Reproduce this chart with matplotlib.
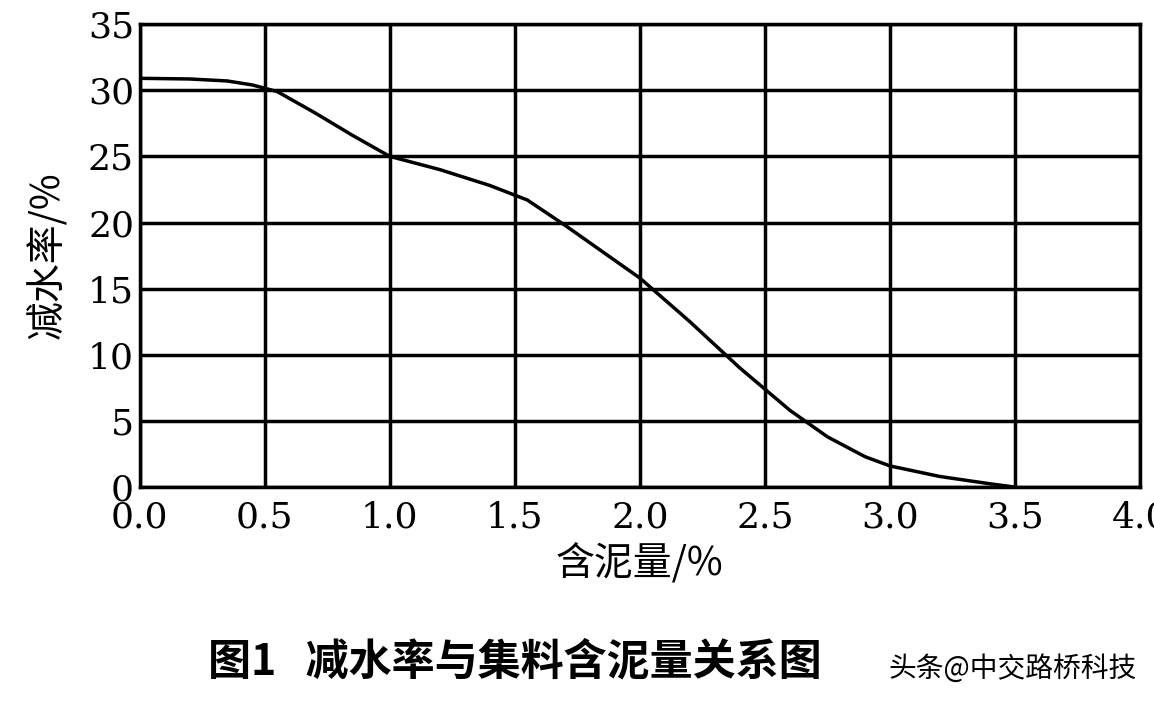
import matplotlib.pyplot as plt
import numpy as np

plt.rcParams['font.family'] = ['DejaVu Serif', 'Noto Sans CJK SC']

# data
mud = [0.0, 0.2, 0.35, 0.45, 0.55, 0.7, 0.85, 1.0, 1.2, 1.4, 1.55, 1.7, 1.85, 2.0, 2.2, 2.4, 2.6, 2.75, 2.9, 3.0, 3.2, 3.4, 3.5]
reduction = [30.9, 30.85, 30.7, 30.4, 29.9, 28.3, 26.6, 25.0, 24.0, 22.8, 21.7, 19.8, 17.8, 15.8, 12.5, 9.0, 5.8, 3.8, 2.3, 1.6, 0.8, 0.25, 0.0]
xticks = [0.0, 0.5, 1.0, 1.5, 2.0, 2.5, 3.0, 3.5, 4.0]
yticks = [0, 5, 10, 15, 20, 25, 30, 35]

fig = plt.figure(figsize=(11.54, 7.08), dpi=100)
ax = fig.add_axes([0.121, 0.312, 0.867, 0.654])
ax.plot(mud, reduction, color='black', lw=2.5)
ax.set_xlim(0, 4.0)
ax.set_ylim(0, 35)
ax.set_xticks(xticks)
ax.set_xticklabels([f'{v:.1f}' for v in xticks])
ax.set_yticks(yticks)
ax.grid(True, color='black', lw=2.5)
for s in ax.spines.values():
    s.set_linewidth(2.5)
ax.tick_params(length=0, labelsize=26)
ax.tick_params(axis='x', pad=10)
ax.tick_params(axis='y', pad=4)
ax.set_xlabel('含泥量/%', fontsize=28, family=['Noto Sans CJK SC', 'DejaVu Sans'], labelpad=6)
ax.set_ylabel('减水率/%', fontsize=28, family=['Noto Sans CJK SC', 'DejaVu Sans'], labelpad=14)

fig.text(0.18, 0.065, '图1   减水率与集料含泥量关系图', fontsize=31, fontweight='bold',
         family=['Noto Sans CJK SC', 'DejaVu Sans'], ha='left', va='center')
fig.text(0.985, 0.055, '头条@中交路桥科技', fontsize=20, color='black',
         family=['Noto Sans CJK SC', 'DejaVu Sans'], ha='right', va='center')

fig.savefig('out.png', dpi=100)
